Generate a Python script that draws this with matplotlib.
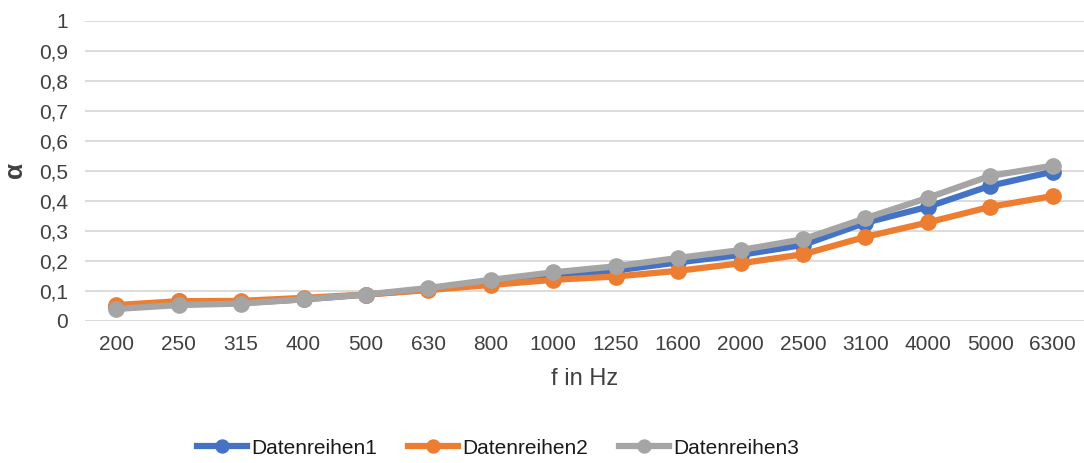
import matplotlib.pyplot as plt
import numpy as np

plt.rcParams['font.family'] = ['Liberation Sans', 'DejaVu Sans']

freqs = ["200", "250", "315", "400", "500", "630", "800", "1000",
         "1250", "1600", "2000", "2500", "3100", "4000", "5000", "6300"]

reihe1 = [0.045, 0.065, 0.060, 0.072, 0.088, 0.105, 0.128, 0.150,
          0.168, 0.195, 0.220, 0.253, 0.327, 0.380, 0.450, 0.497]
reihe2 = [0.053, 0.066, 0.067, 0.077, 0.088, 0.103, 0.120, 0.137,
          0.148, 0.167, 0.192, 0.222, 0.280, 0.328, 0.380, 0.416]
reihe3 = [0.040, 0.053, 0.058, 0.072, 0.088, 0.110, 0.137, 0.162,
          0.182, 0.210, 0.236, 0.272, 0.342, 0.410, 0.483, 0.517]

yticks = np.arange(0, 1.01, 0.1)

W, H = 1084, 463
fig = plt.figure(figsize=(W / 100, H / 100), dpi=100)
ax = fig.add_axes([85 / W, (H - 321) / H, 999 / W, 300.5 / H])

x = np.arange(len(freqs))
ax.plot(x, reihe1, '-o', color='#4472C4', lw=4.5, ms=11, label='Datenreihen1', zorder=3)
ax.plot(x, reihe2, '-o', color='#ED7D31', lw=4.5, ms=11, label='Datenreihen2', zorder=4)
ax.plot(x, reihe3, '-o', color='#A5A5A5', lw=4.5, ms=11, label='Datenreihen3', zorder=5)

ax.set_xlim(-0.5, len(freqs) - 0.5)
ax.set_ylim(0, 1)
ax.set_xticks(x)
ax.set_xticklabels(freqs)
ax.set_yticks(yticks)
ax.set_yticklabels(['0' if v == 0 else ('1' if v == 1 else ('%.1f' % v).replace('.', ','))
                    for v in yticks])
ax.tick_params(length=0, labelsize=15, colors='#404040', pad=12)
ax.tick_params(axis='x', pad=10)
for s in ax.spines.values():
    s.set_visible(False)
ax.grid(axis='y', color='#d9d9d9', lw=1.3)
ax.set_axisbelow(True)

ax.set_xlabel('f in Hz', fontsize=17, color='#404040', labelpad=10)
fig.text(15 / W, 1 - 170 / H, 'α', fontsize=19, color='#404040', fontweight='bold',
         rotation=90, ha='center', va='center')

leg = fig.legend(loc='center', bbox_to_anchor=(498 / W, 1 - 448 / H), ncol=3,
                 frameon=False, fontsize=15, handlelength=2.4, columnspacing=1.5,
                 handletextpad=0.2, markerscale=0.85)
for t in leg.get_texts():
    t.set_color('#1a1a1a')

fig.savefig('out.png', dpi=100)
